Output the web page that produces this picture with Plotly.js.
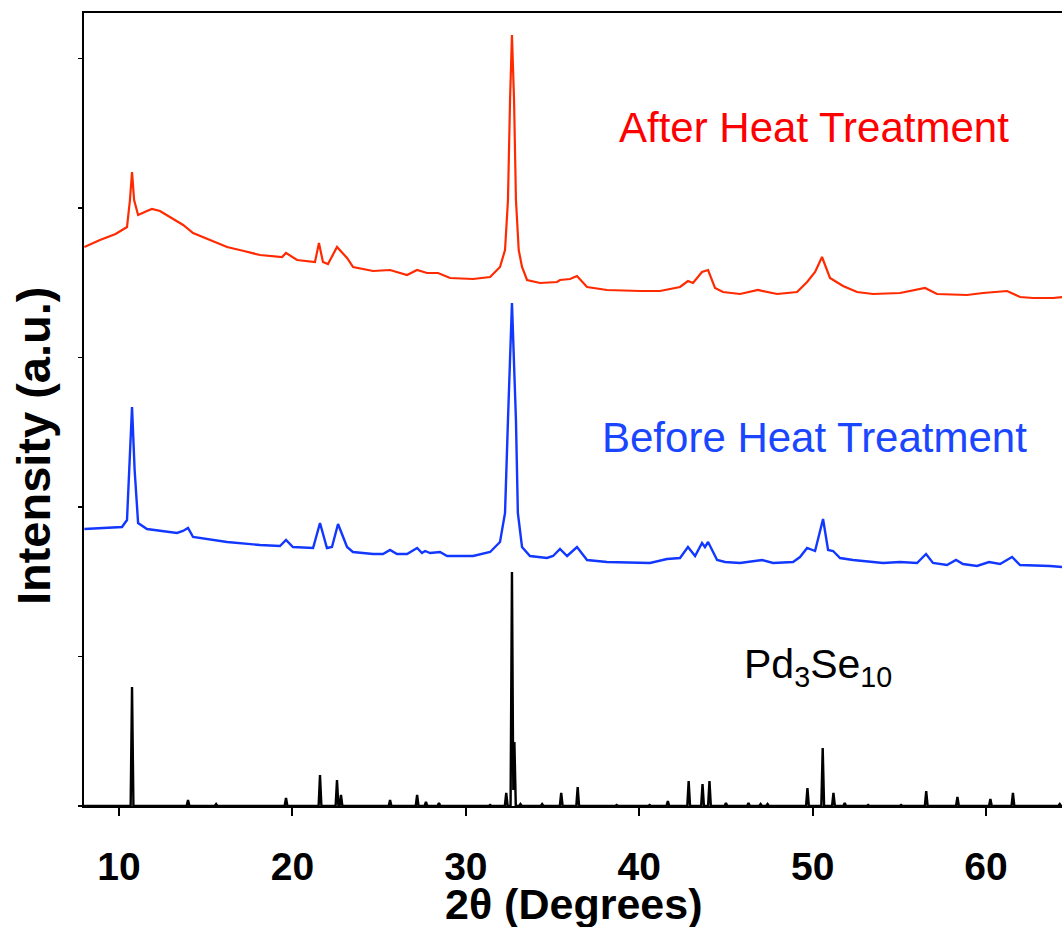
<!DOCTYPE html>
<html>
<head>
<meta charset="utf-8">
<script src="https://cdn.plot.ly/plotly-3.0.1.min.js"></script>
<style>html,body{margin:0;padding:0;background:#fff;}#chart{width:1062px;height:927px;}</style>
</head>
<body>
<div id="chart"></div>
<script>
// 2θ (degrees) and stacked intensity (a.u.)
const afterX = [8.0, 8.9, 9.8, 10.46, 10.63, 10.75, 10.87, 11.10, 11.61, 11.90,
  12.36, 13.0, 13.7, 14.27, 15.2, 16.23, 17.2, 18.13, 19.40, 19.63,
  20.27, 21.30, 21.53, 21.76, 22.05, 22.57, 23.15, 23.5, 24.65, 25.63,
  26.61, 27.19, 27.76, 28.40, 29.09, 30.42, 31.40, 31.97, 32.26, 32.43,
  32.55, 32.66, 32.78, 32.89, 33.05, 33.24, 33.53, 34.28, 35.26, 35.43,
  36.01, 36.41, 36.99, 38.14, 40.05, 41.20, 42.35, 42.81, 43.10, 43.62,
  43.97, 44.37, 44.83, 45.81, 46.85, 47.95, 49.10, 49.68, 50.14, 50.54,
  51.00, 51.75, 52.56, 53.48, 55.04, 56.48, 57.17, 58.90, 59.83, 61.21,
  61.96, 62.71, 63.86, 64.4];
const afterY = [559, 566, 572, 579, 606, 634, 606, 591, 595, 597,
  595, 588, 581, 573, 566, 559, 555, 551, 549, 553,
  546, 544, 563, 544, 542, 559, 548, 539, 535, 536,
  531, 536, 533, 533, 528, 527, 529, 539, 556, 606,
  706, 771, 706, 606, 556, 539, 526, 523, 524, 526,
  527, 530, 519, 516, 515, 515, 519, 525, 523, 534,
  536, 518, 514, 512, 516, 512, 514, 524, 534, 549,
  528, 520, 514, 512, 513, 518, 512, 511, 513, 515,
  509, 508, 508, 509];

const beforeX = [8.0, 10.17, 10.46, 10.60, 10.75, 10.90, 11.10, 11.61, 13.34, 13.69,
  13.98, 14.27, 16.23, 18.13, 19.28, 19.63, 20.03, 21.19, 21.59, 21.99,
  22.28, 22.63, 23.15, 23.49, 24.65, 25.22, 25.63, 26.03, 26.61, 27.19,
  27.47, 27.65, 27.94, 28.51, 28.92, 30.42, 31.40, 31.97, 32.26, 32.43,
  32.66, 32.89, 33.00, 33.24, 33.70, 34.68, 35.03, 35.43, 35.84, 36.41,
  36.99, 38.14, 40.62, 41.60, 42.35, 42.81, 43.22, 43.62, 43.79, 43.97,
  44.49, 44.95, 45.81, 47.08, 47.72, 48.87, 49.27, 49.68, 50.14, 50.60,
  50.89, 51.18, 51.58, 52.33, 54.06, 55.04, 56.02, 56.54, 56.94, 57.75,
  58.27, 58.67, 59.48, 60.17, 60.81, 61.50, 61.96, 63.69, 64.4];
const beforeY = [277, 279, 286, 336, 399, 336, 283, 277, 273, 275,
  278, 269, 264, 261, 260, 266, 259, 258, 283, 258,
  259, 282, 259, 254, 252, 252, 256, 252, 252, 258,
  253, 255, 253, 254, 250, 250, 254, 264, 293, 386,
  503, 386, 293, 259, 250, 248, 250, 257, 250, 259,
  246, 244, 243, 247, 248, 259, 250, 263, 259, 264,
  246, 244, 243, 246, 243, 244, 249, 258, 255, 287,
  256, 255, 248, 246, 243, 244, 243, 252, 243, 241,
  246, 242, 240, 244, 242, 249, 241, 240, 239];

// Pd3Se10 reference pattern: peak positions and heights
const refPeakX = [10.75, 13.98, 15.6, 19.63, 21.59, 22.57, 22.80, 25.63, 27.19, 27.70,
  28.45, 31.4, 32.33, 32.66, 32.80, 33.15, 34.4, 35.5, 36.45, 38.7,
  40.6, 41.65, 42.85, 43.65, 44.05, 45.0, 46.3, 47.0, 47.4, 49.7,
  50.58, 51.2, 51.85, 53.2, 55.1, 56.55, 58.35, 60.25, 61.55, 64.25];
const refPeakH = [119, 6, 2, 8, 31, 26, 11, 6, 11, 4,
  3, 1, 13, 234, 64, 2, 2, 13, 19, 1,
  1, 5, 25, 22, 25, 3, 3, 2, 2, 18,
  58, 13, 3, 1, 1, 15, 9, 7, 13, 2];

const ticksX = [10, 20, 30, 40, 50, 60];
const labelAfter = 'After Heat Treatment';
const labelBefore = 'Before Heat Treatment';
const labelRef = 'Pd<sub>3</sub>Se<sub>10</sub>';
const titleX = '2θ (Degrees)';
const titleY = 'Intensity (a.u.)';

// build stick-profile line from peaks (narrow triangles)
const hw = 0.08;
let verts = [7.98, 64.38];
refPeakX.forEach(p => { verts.push(p - hw, p, p + hw); });
verts = verts.filter(v => v >= 7.98 && v <= 64.38).sort((a, b) => a - b);
const refX = [], refY = [];
verts.forEach(v => {
  let m = 0;
  refPeakX.forEach((p, i) => {
    const d = Math.abs(v - p);
    if (d < hw) m = Math.max(m, refPeakH[i] * (1 - d / hw));
  });
  refX.push(v); refY.push(m);
});

const FONT = 'Liberation Sans, Arial, Helvetica, sans-serif';

const traces = [
  {x: afterX, y: afterY, type: 'scatter', mode: 'lines', name: labelAfter,
   line: {color: '#ff2a00', width: 2.2}, showlegend: false},
  {x: beforeX, y: beforeY, type: 'scatter', mode: 'lines', name: labelBefore,
   line: {color: '#1238ff', width: 2.4}, showlegend: false},
  {x: refX, y: refY, type: 'scatter', mode: 'lines', name: 'Pd3Se10',
   line: {color: '#000000', width: 2.4}, showlegend: false}
];

const layout = {
  width: 1062, height: 927,
  margin: {l: 84, r: 0, t: 13, b: 121},
  paper_bgcolor: '#ffffff', plot_bgcolor: '#ffffff',
  font: {family: FONT, color: '#000'},
  showlegend: false,
  xaxis: {
    range: [7.98, 64.38], tickmode: 'array', tickvals: ticksX, ticktext: ticksX.map(String),
    ticks: 'outside', ticklen: 8, tickwidth: 2, tickcolor: '#000',
    showline: true, linewidth: 2, linecolor: '#000', mirror: true,
    showgrid: false, zeroline: false,
    tickfont: {family: FONT, size: 39, weight: 'bold', color: '#000'},
    ticklabelstandoff: 17
  },
  yaxis: {
    range: [0, 793], tick0: 0, dtick: 149.5,
    ticks: 'outside', ticklen: 4, tickwidth: 1.5, tickcolor: '#000',
    showticklabels: false,
    showline: true, linewidth: 2, linecolor: '#000', mirror: false,
    showgrid: false, zeroline: false
  },
  annotations: [
    {xref: 'paper', yref: 'paper', x: -0.051, y: 0.454, text: titleY, textangle: -90,
     showarrow: false, xanchor: 'center', yanchor: 'middle',
     font: {family: FONT, size: 47, weight: 'bold', color: '#000'}},
    {xref: 'paper', yref: 'paper', x: 0.5, y: -0.123, text: titleX,
     showarrow: false, xanchor: 'center', yanchor: 'middle',
     font: {family: FONT, size: 43, weight: 'bold', color: '#000'}},
    {xref: 'x', yref: 'y', x: 50.08, y: 679, text: labelAfter, showarrow: false,
     xanchor: 'center', yanchor: 'middle', font: {family: FONT, size: 42, color: '#ff0000'}},
    {xref: 'x', yref: 'y', x: 50.1, y: 369, text: labelBefore, showarrow: false,
     xanchor: 'center', yanchor: 'middle', font: {family: FONT, size: 42, color: '#1a46ff'}},
    {xref: 'x', yref: 'y', x: 45.93, y: 139, text: labelRef, showarrow: false,
     xanchor: 'left', yanchor: 'middle', font: {family: FONT, size: 41, color: '#000'}}
  ]
};

Plotly.newPlot('chart', traces, layout, {displayModeBar: false, staticPlot: true});
</script>
</body>
</html>
